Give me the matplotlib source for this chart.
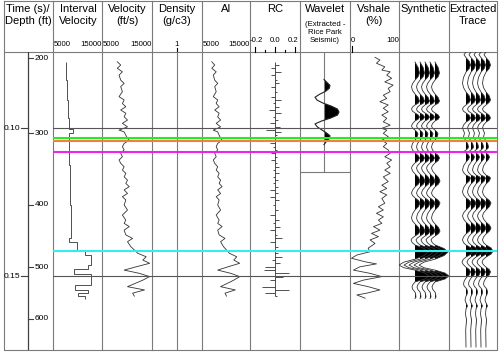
import numpy as np
import matplotlib
matplotlib.use("Agg")
import matplotlib.pyplot as plt

plt.rcParams['font.family'] = ['Liberation Sans', 'DejaVu Sans']

# ---- data ----
# vertical axis is two-way time (s)
t_top, t_bot = 0.0743, 0.1750
time_ticks = [0.10, 0.15]
depth_ticks = [200, 300, 400, 500, 600]
depth_tick_times = [0.0764, 0.1017, 0.1260, 0.1470, 0.1645]

# interval velocity, blocky (edges in ms, one value per block)
iv_edges_ms = [77.7, 83.8, 90.5, 96.6, 100.3, 101.7, 112.5, 126.0, 137.3, 138.4,
               141.6, 142.9, 146.3, 147.6, 149.3, 153.0, 154.7, 155.7, 156.8, 157.6]
iv_values = [7650, 7860, 8060, 8270, 9080, 8270, 8470, 8670, 8270, 9900,
             11530, 12760, 12140, 9290, 12760, 9490, 12140, 10100, 11530]

# velocity log (ft/s)
vel_t_ms = [77.6, 78.7, 79.8, 81.0, 82.1, 83.8, 84.9, 86.0, 87.7, 89.4,
            90.5, 91.7, 92.8, 93.9, 95.0, 96.2, 97.3, 98.4, 99.6, 100.7,
            101.3, 102.4, 103.5, 104.1, 105.2, 106.3, 107.4, 108.5, 109.7, 110.8,
            111.9, 113.1, 114.2, 115.3, 116.5, 117.6, 118.7, 119.8, 120.9, 122.1,
            123.2, 124.3, 126.0, 127.7, 129.4, 131.1, 132.2, 133.3, 134.5, 136.1,
            137.3, 138.4, 140.1, 141.2, 142.3, 143.5, 144.6, 145.7, 146.9, 148.0,
            149.1, 150.2, 151.4, 153.6, 154.7, 155.8, 156.8]
vel_values = [8060, 8740, 8060, 9080, 8410, 8740, 9430, 8740, 9080, 8410,
              9430, 9080, 9760, 8740, 9760, 9430, 10100, 9080, 10100, 8410,
              9430, 9760, 10100, 10450, 9430, 9080, 9430, 8740, 9080, 8410,
              8740, 9430, 9080, 9760, 9430, 10100, 9760, 10450, 9430, 10100,
              9080, 9760, 9430, 10100, 9080, 9760, 9430, 10450, 9430, 9760,
              11120, 10100, 10780, 11470, 12140, 13840, 13160, 14530, 11800, 9430,
              12490, 14530, 13160, 10100, 13510, 11120, 11470]

density_value = 1.0  # g/c3

# Vshale (%)
vsh_t_ms = [76.1, 77.0, 78.1, 79.3, 80.4, 81.0, 82.1, 83.2, 84.4, 85.5,
            86.6, 87.7, 88.9, 90.0, 91.1, 92.2, 93.3, 94.5, 95.6, 96.7,
            97.9, 99.0, 100.1, 100.7, 101.8, 102.9, 104.1, 105.2, 106.3, 107.4,
            108.5, 109.7, 110.8, 111.9, 113.1, 114.2, 115.3, 116.5, 118.1, 119.3,
            120.4, 121.5, 122.6, 123.8, 125.4, 126.6, 127.7, 128.8, 130.0, 131.1,
            132.2, 133.3, 134.5, 135.6, 136.7, 137.8, 139.0, 140.6, 141.8, 142.9,
            144.0, 145.2, 145.9, 146.9, 148.0, 149.1, 150.2, 151.4, 152.5, 153.6,
            154.7, 155.8, 156.4, 157.5]
vsh_values = [51, 61, 54, 71, 65, 82, 75, 85, 71, 88,
              78, 82, 68, 75, 61, 78, 68, 78, 65, 75,
              68, 82, 65, 75, 68, 78, 65, 75, 68, 78,
              82, 71, 85, 75, 82, 71, 82, 68, 78, 65,
              75, 61, 75, 65, 71, 58, 68, 54, 68, 58,
              65, 48, 61, 44, 58, 41, 51, 37, 41, 14,
              3, 31, 54, 20, 7, 41, 65, 27, 7, 37,
              61, 34, 14, 31]

# extracted wavelet (Rice Park seismic)
wav_lag_ms = list(range(-11, 12))
wav_amp = [0.0, 0.20, 0.40, 0.35, 0.10, -0.30, -0.60, -0.45, -0.05, 0.50, 0.90, 1.00,
           0.90, 0.45, -0.15, -0.60, -0.45, -0.15, 0.15, 0.40, 0.35, 0.15, 0.0]
wav_center_ms = 94.6
wav_window_end_ms = 114.9

# synthetic trace
syn_t_ms = [77.7, 79.6, 81.4, 82.6, 83.8, 85.0, 86.1, 87.3, 88.5, 89.7,
            90.9, 91.6, 92.2, 92.9, 93.6, 94.3, 94.9, 95.6, 96.3, 97.0,
            97.6, 98.5, 99.3, 100.0, 100.7, 101.4, 102.0, 103.0, 104.1, 105.2,
            106.4, 107.4, 108.4, 109.3, 110.1, 111.0, 111.8, 112.7, 113.5, 114.5,
            115.5, 116.7, 117.9, 118.9, 119.9, 121.0, 122.0, 122.8, 123.6, 124.5,
            125.3, 126.5, 127.7, 129.0, 130.4, 131.4, 132.4, 133.6, 134.8, 135.7,
            136.5, 137.2, 137.8, 138.7, 139.5, 140.7, 141.9, 143.1, 144.3, 145.3,
            146.3, 147.2, 148.0, 149.0, 150.0, 151.0, 152.0, 152.9, 153.7, 154.6,
            155.4, 156.3, 157.1, 157.6]
syn_amp = [0, 3.2, 4.5, 3.2, 0, -2.5, -3.5, -2.5, 0, 3.2,
           4.5, 3.2, 0, -2.5, -3.5, -2.5, 0, 3.2, 4.5, 3.2,
           0, -2.5, -3.5, -2.5, 0, 2.1, 3, 2.1, 0, -2.5,
           -3.5, -2.5, 0, 3.2, 4.5, 3.2, 0, -2.5, -3.5, -2.5,
           0, 3.5, 5, 3.5, 0, -2.5, -3.5, -2.5, 0, 3.5,
           5, 3.5, 0, -2.5, -3.5, -2.5, 0, 3.5, 5, 3.5,
           0, -2.8, -4, -2.8, 0, 9, 13, 9, 0, -11,
           -16, -11, 0, 10, 14, 10, 0, -2.1, -3, -2.1,
           0, 0.7, 1, 0]

# extracted trace at the well
ext_t_ms = [74.3, 75.2, 76.2, 77.4, 78.7, 79.9, 81.1, 82.9, 84.8, 86.3,
            87.8, 89.1, 90.5, 91.3, 92.2, 92.9, 93.6, 94.3, 94.9, 95.7,
            96.6, 97.3, 98.0, 99.0, 100.0, 101.7, 103.0, 104.4, 105.4, 106.4,
            106.9, 107.4, 107.8, 108.4, 109.1, 109.8, 110.6, 111.5, 112.8, 114.2,
            115.0, 115.9, 116.4, 116.9, 117.9, 118.9, 120.2, 121.6, 122.6, 123.6,
            124.5, 125.3, 126.5, 127.7, 128.7, 129.7, 130.7, 131.8, 132.8, 133.8,
            134.8, 135.8, 136.8, 137.8, 138.7, 139.5, 140.5, 141.6, 142.6, 143.6,
            144.4, 145.3, 146.1, 147.0, 147.8, 148.6, 149.6, 150.7, 151.7, 152.7,
            153.4, 154.1, 154.7, 155.4, 156.1, 156.8, 158.1, 159.1, 160.1, 161.1,
            162.8, 164.9, 168.2, 174.0]
ext_amp = [0, -2, 0, 3.2, 4.5, 3.2, 0, -2.5, -3.5, -2.5,
           0, 3.2, 4.5, 3.2, 0, -2.5, -3.5, -2.5, 0, 3.2,
           4.5, 3.2, 0, -2.5, -3.5, -1.5, -2.5, 0, 1.8, 2.5,
           1.8, 0, -1.5, 0, 2.5, 3.5, 2.5, 0, -2.5, -3.5,
           -2.5, 0, 3.2, 4.5, 3.2, 0, -2.5, -3.5, -2.5, 0,
           3.5, 5, 3.5, 0, -2.5, -3.5, -2.5, 0, 3.5, 5,
           3.5, 0, -2.5, -3.5, -2.5, 0, 5, 7, 5, 0,
           -2.8, -4, -2.8, 0, 3.2, 4.5, 3.2, 0, -1.8, -2.5,
           -1.8, 0, 1.1, 1.5, 1.1, 0, -1, 0, 1.5, 0,
           -0.5, 0.5, -0.3, 0]

# horizons
grid_times = [0.10, 0.15]
horizon_times_ms = [103.5, 104.3, 108.2, 141.6]
horizon_colors = ['#22ee22', '#f5803c', '#ee22ee', '#33eeee']

# ---- layout ----
W, H = 500, 353
TOP, BOT = 52, 350
fig = plt.figure(figsize=(W / 100, H / 100), dpi=100)
frame = fig.add_axes([0, 0, 1, 1])
frame.set_xlim(0, W)
frame.set_ylim(H, 0)
frame.axis('off')


def track(x0, x1, xlim):
    ax = fig.add_axes([x0 / W, (H - BOT) / H, (x1 - x0) / W, (BOT - TOP) / H])
    ax.set_xlim(*xlim)
    ax.set_ylim(t_bot, t_top)
    ax.axis('off')
    return ax


sep = [53, 102, 152, 202, 250, 300, 350, 399, 449]
gray = '#7a7a7a'
for x in sep:
    frame.plot([x, x], [1, BOT], color=gray, lw=0.8)
frame.plot([4, 497, 497, 4, 4], [1, 1, BOT, BOT, 1], color=gray, lw=0.8)
frame.plot([4, 497], [TOP, TOP], color=gray, lw=0.8)

# header text
big = 8
small = 5.6
heads = [(28, ["Time (s)/", "Depth (ft)"]), (78, ["Interval", "Velocity"]),
         (127, ["Velocity", "(ft/s)"]), (177, ["Density", "(g/c3)"]),
         (226, ["AI"]), (275, ["RC"]), (374, ["Vshale", "(%)"]),
         (424, ["Synthetic"]), (473, ["Extracted", "Trace"])]
for xc, lines in heads:
    for i, s in enumerate(lines):
        frame.text(xc, 9 + 12 * i, s, ha='center', va='center', fontsize=big)
frame.text(325, 9, "Wavelet", ha='center', va='center', fontsize=big)
for i, s in enumerate(["(Extracted -", "Rice Park", "Seismic)"]):
    frame.text(325, 25 + 8 * i, s, ha='center', va='center', fontsize=small)

# scale labels
for x0, x1 in [(53, 102), (102, 152), (202, 250)]:
    frame.text(x0 + 1, 44, "5000", ha='left', va='center', fontsize=small)
    frame.text(x1, 44, "15000", ha='right', va='center', fontsize=small)
frame.text(177, 44, "1", ha='center', va='center', fontsize=small)
frame.plot([177, 177], [48, TOP], color='k', lw=0.8)
frame.text(250, 40, "-0.2", ha='left', va='center', fontsize=small)
frame.text(275, 40, "0.0", ha='center', va='center', fontsize=small)
frame.text(299, 40, "0.2", ha='right', va='center', fontsize=small)
for v in [-0.2, -0.1, 0.0, 0.1, 0.2]:
    x = 275 + v * 100
    frame.plot([x, x], [TOP - (5 if v in (-0.2, 0.0, 0.2) else 2.5), TOP], color='k', lw=0.8)
frame.text(351, 40, "0", ha='left', va='center', fontsize=small)
frame.text(399, 40, "100", ha='right', va='center', fontsize=small)
frame.plot([352, 352], [46, TOP], color='k', lw=0.8)

# time / depth column
axt = track(4, 53, (0, 49))
axt.axvline(24, color='#404040', lw=0.9)
for t in time_ticks:
    axt.plot([17, 24], [t, t], color='#404040', lw=0.8)
    axt.text(16.5, t, f"{t:.2f}", ha='right', va='center', fontsize=6)
for d, td in zip(depth_ticks, depth_tick_times):
    axt.plot([24, 29], [td, td], color='#404040', lw=0.8)
    axt.text(31, td, str(d), ha='left', va='center', fontsize=6)

logc = '#333333'
lw_log = 0.6

# interval velocity
ax = track(53, 102, (5000, 15000))
ax.stairs(iv_values, np.array(iv_edges_ms) / 1000, orientation='horizontal',
          baseline=None, color=logc, lw=lw_log)

# velocity
vel_t = np.array(vel_t_ms) / 1000
vel = np.array(vel_values, dtype=float)
ax = track(102, 152, (5000, 15000))
ax.plot(vel, vel_t, color=logc, lw=lw_log)

# density
ax = track(152, 202, (0, 2))
ax.axvline(density_value, color=gray, lw=0.8)

# acoustic impedance
ai = vel * density_value
ax = track(202, 250, (5790, 16920))
ax.plot(ai, vel_t, color=logc, lw=lw_log)

# reflection coefficients
rc = (ai[1:] - ai[:-1]) / (ai[1:] + ai[:-1])
ax = track(250, 300, (-0.25, 0.25))
ax.vlines(0, vel_t[0], vel_t[-1], color=logc, lw=0.6)
ax.hlines(vel_t[1:], 0, rc, color=logc, lw=0.6)

# wavelet
ax = track(300, 350, (-1.6, 1.733))
wt = (wav_center_ms + np.array(wav_lag_ms)) / 1000
wa = np.array(wav_amp)
ax.plot([0, 0], [t_top, wav_window_end_ms / 1000], color=gray, lw=0.8)
ax.plot([-1.6, 1.733], [wav_window_end_ms / 1000] * 2, color=gray, lw=0.8)
ax.fill_betweenx(wt, 0, wa, where=wa > 0, interpolate=True, color='k', lw=0)
ax.plot(wa, wt, color='#222222', lw=0.8)

# vshale
ax = track(350, 399, (0, 100))
ax.plot(vsh_values, np.array(vsh_t_ms) / 1000, color=logc, lw=lw_log)


def wiggles(ax, t_ms, amp, offsets):
    t = np.array(t_ms) / 1000
    a = np.array(amp, dtype=float)
    for off in offsets:
        ax.fill_betweenx(t, off, off + a, where=a > 0, interpolate=True, color='k', lw=0)
        ax.plot(off + a, t, color='#333333', lw=0.6)


ax = track(399, 449, (0, 50))
wiggles(ax, syn_t_ms, syn_amp, [16, 21, 26, 31, 36])
ax = track(449, 497, (0, 48))
wiggles(ax, ext_t_ms, ext_amp, [17, 22, 27, 32, 37])

# horizons and grid on top
ax = track(53, 497, (0, 1))
for t in grid_times:
    ax.axhline(t, color='#555555', lw=0.8)
for tm, c in zip(horizon_times_ms, horizon_colors):
    ax.axhline(tm / 1000, color=c, lw=1.5)

fig.savefig("out.png", dpi=100)
